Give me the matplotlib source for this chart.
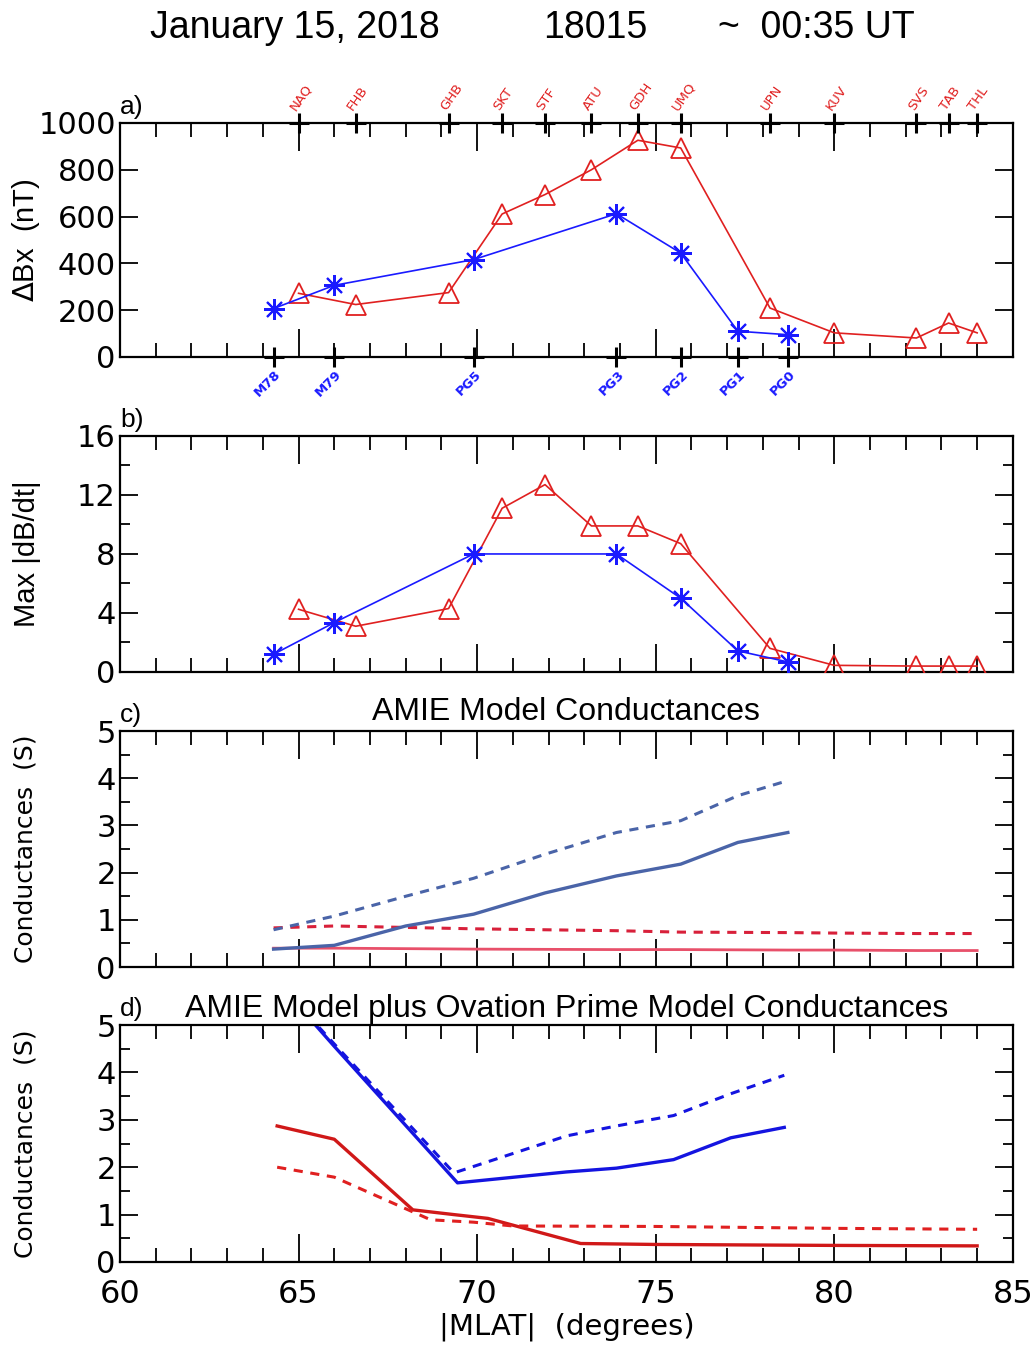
import numpy as np
import matplotlib
matplotlib.use("Agg")
from matplotlib import pyplot as plt
from matplotlib.ticker import MultipleLocator

plt.rcParams['font.family'] = ['DejaVu Sans']

# red (Greenland / west coast) stations
red_names = ['NAQ', 'FHB', 'GHB', 'SKT', 'STF', 'ATU', 'GDH', 'UMQ',
             'UPN', 'KUV', 'SVS', 'TAB', 'THL']
red_lat = [65.0, 66.6, 69.2, 70.7, 71.9, 73.2, 74.5, 75.7,
           78.2, 80.0, 82.3, 83.2, 84.0]
red_dbx = [272, 224, 275, 611, 694, 800, 926, 893,
           209, 103, 81, 145, 103]
red_dbdt = [4.25, 3.1, 4.3, 11.1, 12.7, 9.9, 9.9, 8.7,
            1.6, 0.45, 0.4, 0.4, 0.4]

# blue (Canadian) stations
blue_names = ['M78', 'M79', 'PG5', 'PG3', 'PG2', 'PG1', 'PG0']
blue_lat = [64.3, 66.0, 69.9, 73.9, 75.7, 77.3, 78.7]
blue_dbx = [207, 306, 416, 612, 444, 110, 95]
blue_dbdt = [1.2, 3.35, 8.0, 8.0, 5.0, 1.43, 0.68]

# AMIE conductances (panel c)
c_blue_lat = [64.3, 66.0, 68.0, 69.9, 71.9, 73.9, 75.7, 77.3, 78.7]
c_blue_ped = [0.38, 0.46, 0.87, 1.12, 1.57, 1.93, 2.18, 2.64, 2.85]
c_blue_hall = [0.79, 1.08, 1.5, 1.88, 2.39, 2.85, 3.1, 3.63, 3.95]
c_red_lat = [64.3, 66.0, 69.9, 73.9, 75.7, 78.7, 80.0, 82.3, 84.0]
c_red_ped = [0.40, 0.40, 0.38, 0.37, 0.37, 0.36, 0.36, 0.35, 0.35]
c_red_hall = [0.83, 0.87, 0.81, 0.77, 0.74, 0.73, 0.72, 0.71, 0.71]

# AMIE + Ovation Prime conductances (panel d)
d_blue_lat = [64.3, 66.0, 69.45, 72.5, 73.9, 75.5, 77.1, 78.6]
d_blue_ped = [6.0, 4.55, 1.67, 1.9, 1.98, 2.16, 2.62, 2.84]
d_blue_hall_lat = [64.3, 66.0, 69.35, 72.5, 73.9, 75.5, 77.1, 78.6]
d_blue_hall = [6.0, 4.6, 1.88, 2.66, 2.87, 3.09, 3.55, 3.94]
d_red_lat = [64.4, 66.0, 68.2, 69.35, 70.3, 72.9, 75.0, 80.0, 84.0]
d_red_ped = [2.87, 2.59, 1.1, 1.0, 0.92, 0.39, 0.37, 0.35, 0.34]
d_red_hall_lat = [64.4, 66.0, 68.7, 69.9, 71.0, 75.0, 80.0, 84.0]
d_red_hall = [2.0, 1.79, 0.89, 0.84, 0.76, 0.75, 0.71, 0.69]

RED = '#e02020'
BLUE = '#1a1aff'
STAR = (8, 2, 0)
NARROW = ['Liberation Sans Narrow', 'Liberation Sans', 'DejaVu Sans']
ARIAL = ['Liberation Sans', 'DejaVu Sans']

fig = plt.figure(figsize=(10.31, 13.48), dpi=100)
rects = [[0.1164, 0.7352, 0.866, 0.1736],
         [0.1164, 0.5015, 0.866, 0.1751],
         [0.1164, 0.2826, 0.866, 0.1751],
         [0.1164, 0.0638, 0.866, 0.1758]]
axes = [fig.add_axes(r) for r in rects]


def style(ax):
    ax.set_xlim(60, 85)
    ax.xaxis.set_major_locator(MultipleLocator(5))
    ax.xaxis.set_minor_locator(MultipleLocator(1))
    ax.tick_params(axis='both', which='both', direction='in',
                   top=True, right=True, width=1.3, labelsize=22,
                   pad=3)
    ax.tick_params(axis='x', which='major', length=20)
    ax.tick_params(axis='x', which='minor', length=10)
    ax.tick_params(axis='y', which='major', length=13)
    ax.tick_params(axis='y', which='minor', length=7)
    for s in ax.spines.values():
        s.set_linewidth(1.6)


for ax in axes:
    style(ax)
for ax in axes[:3]:
    ax.tick_params(axis='x', labelbottom=False)

# ---- a) delta Bx
ax = axes[0]
ax.plot(red_lat, red_dbx, '-', color=RED, lw=1.2, marker='^', ms=14,
        mfc='none', mec=RED, mew=1.3, zorder=3)
ax.plot(blue_lat, blue_dbx, '-', color=BLUE, lw=1.2, marker=STAR, ms=15,
        mec=BLUE, mew=1.5, zorder=4)
ax.set_ylim(0, 1000)
ax.yaxis.set_major_locator(MultipleLocator(200))
ax.set_ylabel(r'$\Delta$Bx  (nT)', fontsize=21, family=ARIAL)
ax.yaxis.set_label_coords(-0.087, 0.5)

# station markers on the spines
ax.plot(red_lat, [1000] * len(red_lat), '+', color='k', ms=14, mew=2.2,
        clip_on=False, zorder=6)
ax.plot(blue_lat, [0] * len(blue_lat), '+', color='k', ms=14, mew=2.2,
        clip_on=False, zorder=6)
for name, x in zip(red_names, red_lat):
    ax.annotate(name, (x, 1000), xytext=(-4, 10), textcoords='offset points',
                rotation=55, rotation_mode='anchor', ha='left', va='center',
                fontsize=9.5, color=RED, annotation_clip=False)
for name, x in zip(blue_names, blue_lat):
    ax.annotate(name, (x, 0), xytext=(4, -11), textcoords='offset points',
                rotation=45, rotation_mode='anchor', ha='right', va='center',
                fontsize=9.5, color=BLUE, fontweight='bold',
                annotation_clip=False)

# ---- b) max |dB/dt|
ax = axes[1]
ax.plot(red_lat, red_dbdt, '-', color=RED, lw=1.2, marker='^', ms=14,
        mfc='none', mec=RED, mew=1.3, zorder=3)
ax.plot(blue_lat, blue_dbdt, '-', color=BLUE, lw=1.2, marker=STAR, ms=15,
        mec=BLUE, mew=1.5, zorder=4)
ax.set_ylim(0, 16)
ax.yaxis.set_major_locator(MultipleLocator(4))
ax.yaxis.set_minor_locator(MultipleLocator(2))
ax.set_ylabel('Max |dB/dt|', fontsize=21, family=ARIAL)
ax.yaxis.set_label_coords(-0.088, 0.5)

# ---- c) AMIE conductances
ax = axes[2]
ax.plot(c_red_lat, c_red_ped, '-', color='#e8506a', lw=2.0)
ax.plot(c_red_lat, c_red_hall, '--', color='#d8203a', lw=2.2, dashes=(3, 2.5))
ax.plot(c_blue_lat, c_blue_ped, '-', color='#4a64a8', lw=2.4)
ax.plot(c_blue_lat, c_blue_hall, '--', color='#4a64a8', lw=2.2, dashes=(3, 2.5))
ax.set_ylim(0, 5)
ax.yaxis.set_major_locator(MultipleLocator(1))
ax.yaxis.set_minor_locator(MultipleLocator(0.5))
ax.set_ylabel('Conductances  (S)', fontsize=18)
ax.yaxis.set_label_coords(-0.092, 0.5)
ax.set_title('AMIE Model Conductances', fontsize=23, pad=8, family=NARROW)

# ---- d) AMIE + Ovation Prime
ax = axes[3]
ax.plot(d_red_lat, d_red_ped, '-', color='#d01818', lw=2.4)
ax.plot(d_red_hall_lat, d_red_hall, '--', color='#e02020', lw=2.2, dashes=(3, 2.5))
ax.plot(d_blue_lat, d_blue_ped, '-', color='#1414e0', lw=2.4)
ax.plot(d_blue_hall_lat, d_blue_hall, '--', color='#1414e0', lw=2.2, dashes=(3, 2.5))
ax.set_ylim(0, 5)
ax.yaxis.set_major_locator(MultipleLocator(1))
ax.yaxis.set_minor_locator(MultipleLocator(0.5))
ax.set_ylabel('Conductances  (S)', fontsize=18)
ax.yaxis.set_label_coords(-0.092, 0.5)
ax.set_title('AMIE Model plus Ovation Prime Model Conductances', fontsize=23,
             pad=6, family=NARROW)
ax.set_xlabel('|MLAT|  (degrees)', fontsize=21, labelpad=2)
ax.tick_params(axis='x', labelsize=23, pad=12)

# panel letters
for ax, lab in zip(axes, ['a)', 'b)', 'c)', 'd)']):
    ax.text(0.0, 1.015, lab, transform=ax.transAxes, fontsize=19,
            ha='left', va='bottom', family=NARROW)

# header
hdr = dict(fontsize=27, va='center', ha='left', family=ARIAL)
fig.text(150 / 1031, 1 - 28 / 1348, 'January 15, 2018', **hdr)
fig.text(543 / 1031, 1 - 28 / 1348, '18015', **hdr)
fig.text(718 / 1031, 1 - 28 / 1348, '~  00:35 UT', **hdr)

fig.savefig('out.png', dpi=100)
